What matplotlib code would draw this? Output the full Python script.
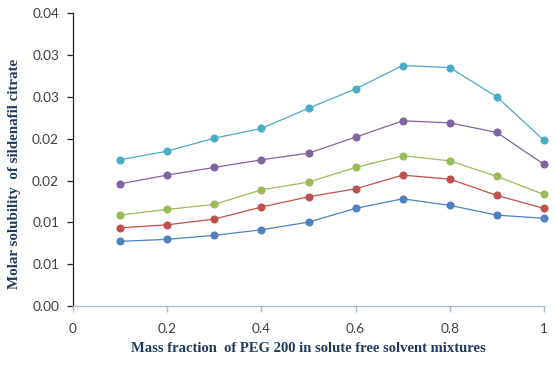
import matplotlib
matplotlib.use("Agg")
import matplotlib.pyplot as plt

x = [0.1, 0.2, 0.3, 0.4, 0.5, 0.6, 0.7, 0.8, 0.9, 1.0]
s1 = [0.00773, 0.00797, 0.00845, 0.00911, 0.01003, 0.01167, 0.01282, 0.01203, 0.01087, 0.01048]
s2 = [0.00935, 0.00971, 0.01039, 0.01183, 0.01306, 0.01401, 0.01565, 0.01517, 0.01322, 0.01167]
s3 = [0.01087, 0.01155, 0.01215, 0.01389, 0.01481, 0.01657, 0.01796, 0.01736, 0.01549, 0.01334]
s4 = [0.01461, 0.01565, 0.01657, 0.01748, 0.01828, 0.02019, 0.02214, 0.02190, 0.02075, 0.01693]
s5 = [0.01748, 0.01852, 0.02007, 0.02123, 0.02365, 0.02596, 0.02875, 0.02851, 0.02500, 0.01979]
series = [s1, s2, s3, s4, s5]
colors = ["#4F81BD", "#C0504D", "#9BBB59", "#8064A2", "#4BACC6"]

xticks = [0, 0.2, 0.4, 0.6, 0.8, 1.0]
xticklabels = ["0", "0.2", "0.4", "0.6", "0.8", "1"]
yticks = [0, 0.005, 0.01, 0.015, 0.02, 0.025, 0.03, 0.035]
yticklabels = ["0.00", "0.01", "0.01", "0.02", "0.02", "0.03", "0.03", "0.04"]

fig = plt.figure(figsize=(5.56, 3.67), dpi=100)
ax = fig.add_axes([73/556, 1-306/367, (544-73)/556, (306-13.3)/367])

for s, c in zip(series, colors):
    ax.plot(x, s, color=c, lw=0.9, marker="o", markersize=4.8,
            markerfacecolor=c, markeredgecolor=c, clip_on=False, zorder=3)

ax.set_xlim(0, 1)
ax.set_ylim(0, 0.035)
ax.set_xticks(xticks)
ax.set_xticklabels(xticklabels)
ax.set_yticks(yticks)
ax.set_yticklabels(yticklabels)

for lab in ax.get_xticklabels() + ax.get_yticklabels():
    lab.set_fontfamily("Lato")
    lab.set_fontsize(9.8)
    lab.set_color("#404040")

ax.spines["top"].set_visible(False)
ax.spines["right"].set_visible(False)
ax.spines["left"].set_color("#222222")
ax.spines["left"].set_linewidth(0.9)
ax.spines["bottom"].set_color("#A8BCD4")
ax.spines["bottom"].set_linewidth(1.0)
ax.tick_params(axis="y", direction="out", length=4, width=0.9, color="#222222", pad=6)
ax.tick_params(axis="x", direction="out", length=4, width=1.0, color="#A8BCD4", pad=8)

fig.text(308/556, 1-349/367, "Mass fraction  of PEG 200 in solute free solvent mixtures",
         ha="center", va="center", fontfamily="Liberation Serif", fontweight="bold",
         fontsize=10.5, color="#1F3A5F")
fig.text(15/556, 1-174/367, "Molar solubility  of sildenafil citrate",
         ha="center", va="center", rotation=90, fontfamily="Liberation Serif",
         fontweight="bold", fontsize=10.8, color="#1F3A5F")

fig.savefig("out.png", dpi=100)
